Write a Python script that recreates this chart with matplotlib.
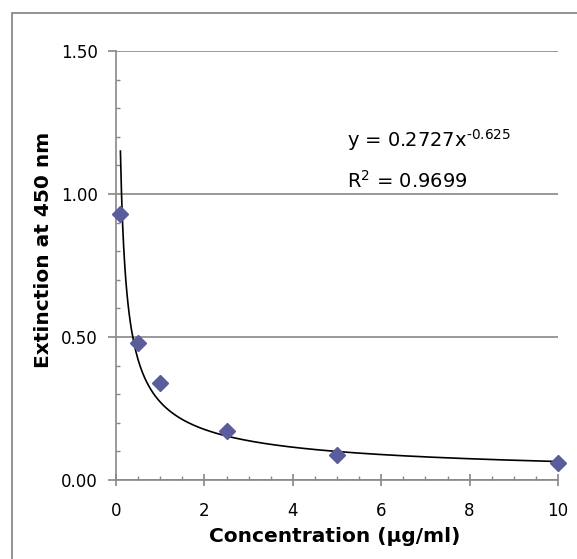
import numpy as np
import matplotlib
matplotlib.use('Agg')
import matplotlib.pyplot as plt
from matplotlib import font_manager
from matplotlib.ticker import MultipleLocator, FormatStrFormatter
from matplotlib.patches import Rectangle

# measured points
conc = [0.1, 0.5, 1.0, 2.5, 5.0, 10.0]
extinction = [0.93, 0.48, 0.34, 0.172, 0.087, 0.058]

# power trendline y = a * x^b
fit_a = 0.2727
fit_b = -0.625
fit_r2 = 0.9699

xticks = [0, 2, 4, 6, 8, 10]
yticks = [0.0, 0.5, 1.0, 1.5]

plt.rcParams['axes.unicode_minus'] = False

names = {f.name for f in font_manager.fontManager.ttflist}
if 'Liberation Sans Narrow' in names:
    lab_font, lab_size = 'Liberation Sans Narrow', 16.5
else:
    lab_font, lab_size = 'DejaVu Sans', 14.5

fig = plt.figure(figsize=(5.77, 5.59), dpi=100)
fig.patch.set_facecolor('white')

# outer chart frame (runs off the right and bottom edges)
fig.patches.append(Rectangle((12 / 577, -0.5), 2, 1 - 13 / 559 + 0.5,
                             transform=fig.transFigure, fill=False,
                             edgecolor='#808080', lw=1.2))

ax = fig.add_axes([116 / 577, 1 - 480 / 559, 442 / 577, 429 / 559])
ax.set_xlim(0, 10)
ax.set_ylim(0, 1.5)

xs = np.linspace(min(conc), max(conc), 400)
ax.plot(xs, fit_a * xs ** fit_b, color='black', lw=1.2, zorder=3)
ax.plot(conc, extinction, ls='none', marker='D', ms=8.5,
        color='#5a5c9c', zorder=4, clip_on=False)

ax.set_xticks(xticks)
ax.set_yticks(yticks)
ax.xaxis.set_minor_locator(MultipleLocator(0.5))
ax.yaxis.set_minor_locator(MultipleLocator(0.1))
ax.yaxis.set_major_formatter(FormatStrFormatter('%.2f'))

for s in ['top', 'right']:
    ax.spines[s].set_visible(False)
for s in ['left', 'bottom']:
    ax.spines[s].set_color('#888888')
    ax.spines[s].set_linewidth(1.2)

ax.grid(axis='y', which='major', color='#888888', lw=1.2)
ax.set_axisbelow(True)

ax.tick_params(axis='x', which='major', direction='inout', length=9,
               color='#888888', width=1.2, labelsize=12, pad=11)
ax.tick_params(axis='x', which='minor', direction='in', length=3,
               color='#888888', width=1.0)
ax.tick_params(axis='y', which='major', direction='out', length=6,
               color='#888888', width=1.2, labelsize=12, pad=7)
ax.tick_params(axis='y', which='minor', direction='in', length=3,
               color='#888888', width=1.0)

ax.text(5.23, 1.164, r'y = 0.2727x$^{\text{%.3f}}$' % fit_b, fontsize=14,
        va='baseline', ha='left')
ax.text(5.23, 1.021, r'R$^{2}$ = %.4f' % fit_r2, fontsize=14,
        va='baseline', ha='left')

fig.text(335 / 577, 1 - 536 / 559, 'Concentration (µg/ml)', ha='center',
         va='center', fontsize=lab_size, fontweight='bold', family=lab_font)
fig.text(44 / 577, 1 - 250 / 559, 'Extinction at 450 nm', ha='center',
         va='center', rotation=90, fontsize=lab_size, fontweight='bold',
         family=lab_font)

fig.savefig('out.png', dpi=100)
